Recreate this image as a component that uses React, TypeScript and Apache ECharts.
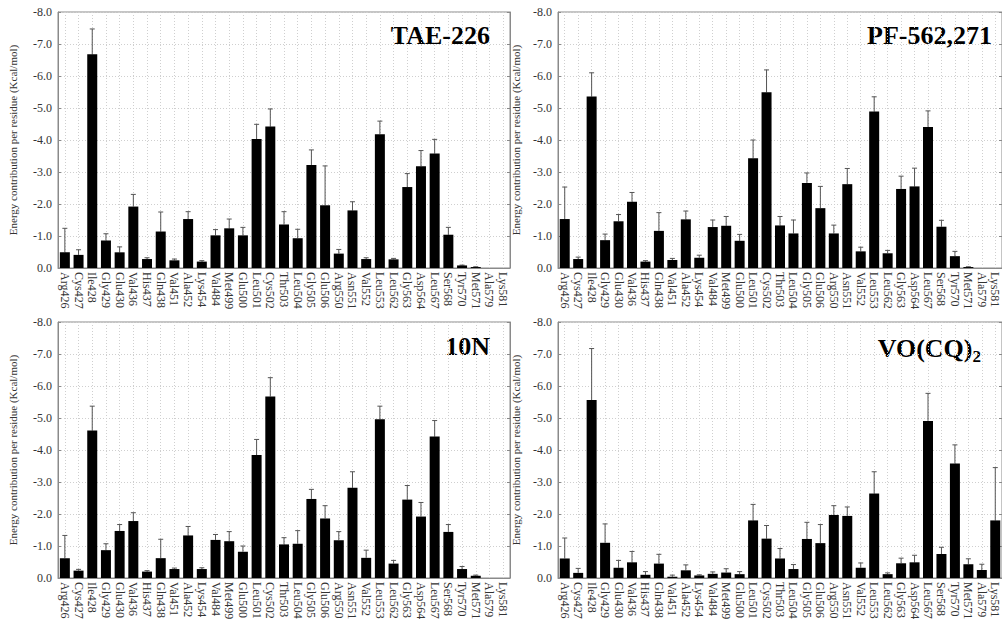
import React, { useEffect, useRef } from "react";
import * as echarts from "echarts";

const residues = [
  "Arg426", "Cys427", "Ile428", "Gly429", "Glu430", "Val436", "His437", "Gln438",
  "Val451", "Ala452", "Lys454", "Val484", "Met499", "Glu500", "Leu501", "Cys502",
  "Thr503", "Leu504", "Gly505", "Glu506", "Arg550", "Asn551", "Val552", "Leu553",
  "Leu562", "Gly563", "Asp564", "Leu567", "Ser568", "Tyr570", "Met571", "Ala579", "Lys581",
];

const yTicks = [-8, -7, -6, -5, -4, -3, -2, -1, 0];

const taeValues = [
  -0.49, -0.41, -6.68, -0.86, -0.49, -1.92, -0.28, -1.14, -0.24, -1.53, -0.2, -1.02, -1.24,
  -1.02, -4.03, -4.42, -1.36, -0.93, -3.22, -1.96, -0.45, -1.8, -0.28, -4.18, -0.27, -2.53,
  -3.18, -3.58, -1.04, -0.08, -0.03, 0, 0,
];
const taeErrors = [
  -1.24, -0.57, -7.47, -1.07, -0.66, -2.3, -0.32, -1.75, -0.28, -1.76, -0.23, -1.2, -1.53,
  -1.27, -4.49, -4.97, -1.76, -1.21, -3.69, -3.19, -0.58, -2.07, -0.32, -4.59, -0.3, -2.95,
  -3.67, -4.02, -1.27, -0.09, -0.04, 0, 0,
];

const pfValues = [
  -1.53, -0.28, -5.36, -0.87, -1.46, -2.07, -0.2, -1.16, -0.25, -1.52, -0.32, -1.28, -1.32,
  -0.85, -3.43, -5.49, -1.33, -1.08, -2.66, -1.87, -1.08, -2.62, -0.52, -4.89, -0.46, -2.47,
  -2.55, -4.41, -1.29, -0.37, -0.03, 0, 0,
];
const pfErrors = [
  -2.53, -0.34, -6.1, -1.06, -1.67, -2.36, -0.23, -1.73, -0.3, -1.78, -0.4, -1.5, -1.61,
  -1.05, -4.0, -6.19, -1.61, -1.5, -2.97, -2.55, -1.34, -3.11, -0.65, -5.35, -0.55, -2.87,
  -3.12, -4.91, -1.49, -0.52, -0.04, 0, 0,
];

const n10Values = [
  -0.62, -0.23, -4.61, -0.87, -1.47, -1.78, -0.2, -0.62, -0.28, -1.33, -0.28, -1.19, -1.15,
  -0.82, -3.84, -5.67, -1.05, -1.07, -2.47, -1.86, -1.18, -2.82, -0.63, -4.96, -0.45, -2.45,
  -1.92, -4.42, -1.44, -0.28, -0.07, 0, 0,
];
const n10Errors = [
  -1.33, -0.27, -5.37, -1.07, -1.67, -2.04, -0.23, -1.21, -0.31, -1.61, -0.32, -1.36, -1.45,
  -1.0, -4.33, -6.26, -1.26, -1.48, -2.77, -2.26, -1.45, -3.32, -0.87, -5.37, -0.55, -2.89,
  -2.36, -4.92, -1.67, -0.36, -0.09, 0, 0,
];

const vocqValues = [
  -0.61, -0.16, -5.56, -1.1, -0.32, -0.49, -0.1, -0.45, -0.04, -0.24, -0.08, -0.13, -0.17,
  -0.12, -1.8, -1.23, -0.61, -0.28, -1.22, -1.09, -1.97, -1.94, -0.32, -2.64, -0.12, -0.46,
  -0.49, -4.91, -0.75, -3.58, -0.43, -0.25, -1.8,
];
const vocqErrors = [
  -1.25, -0.3, -7.17, -1.69, -0.55, -0.83, -0.2, -0.74, -0.09, -0.41, -0.1, -0.19, -0.29,
  -0.2, -2.3, -1.64, -0.92, -0.42, -1.74, -1.67, -2.26, -2.22, -0.47, -3.32, -0.16, -0.62,
  -0.71, -5.77, -0.96, -4.16, -0.6, -0.43, -3.45,
];

const panels = [
  { values: taeValues, errors: taeErrors },
  { values: pfValues, errors: pfErrors },
  { values: n10Values, errors: n10Errors },
  { values: vocqValues, errors: vocqErrors },
];

const SERIF = "'Liberation Serif', 'Times New Roman', serif";
const TEXT = "#333";

export default function App() {
  const ref = useRef<HTMLDivElement>(null);

  useEffect(() => {
    if (!ref.current) return;
    const chart = echarts.init(ref.current, null, { renderer: "svg" });

    const gridPos = [
      { left: 58, top: 12, width: 452, height: 256 },
      { left: 558, top: 12, width: 452, height: 256 },
      { left: 58, top: 322, width: 452, height: 256 },
      { left: 558, top: 322, width: 452, height: 256 },
    ];

    const grids = gridPos.map((g) => ({
      ...g,
      show: true,
      borderColor: "#8a8a8a",
      borderWidth: 1,
      backgroundColor: "transparent",
    }));

    const xAxes = gridPos.map((_, i) => ({
      type: "category",
      gridIndex: i,
      data: residues,
      boundaryGap: true,
      axisLine: { show: true, lineStyle: { color: "#8a8a8a" } },
      axisTick: { show: false },
      axisLabel: {
        interval: 0,
        rotate: -90,
        fontFamily: SERIF,
        fontSize: 12,
        color: TEXT,
        margin: 4,
      },
      splitLine: {
        show: true,
        interval: 0,
        alignWithLabel: true,
        lineStyle: { color: "#cfcfcf", type: [1, 2], width: 1 },
      },
    }));

    const yAxes: any[] = [];
    gridPos.forEach((_, i) => {
      yAxes.push({
        type: "value",
        gridIndex: i,
        min: yTicks[0],
        max: yTicks[yTicks.length - 1],
        interval: 1,
        inverse: true,
        name: "Energy contribution per residue (Kcal/mol)",
        nameLocation: "middle",
        nameGap: i % 2 === 0 ? 40 : 37,
        nameTextStyle: { fontFamily: SERIF, fontSize: 11, color: TEXT },
        axisLine: { show: true, lineStyle: { color: "#8a8a8a" } },
        axisTick: { show: true, inside: true, length: 3, lineStyle: { color: "#8a8a8a" } },
        axisLabel: {
          fontFamily: SERIF,
          fontSize: 12,
          color: TEXT,
          margin: 6,
          formatter: (v: number) => v.toFixed(1),
        },
        splitLine: { show: true, lineStyle: { color: "#cfcfcf", type: [1, 2], width: 1 } },
      });
    });
    gridPos.forEach((_, i) => {
      yAxes.push({
        type: "value",
        gridIndex: i,
        position: "right",
        min: yTicks[0],
        max: yTicks[yTicks.length - 1],
        interval: 1,
        inverse: true,
        axisLine: { show: true, lineStyle: { color: "#8a8a8a" } },
        axisTick: { show: true, inside: true, length: 3, lineStyle: { color: "#8a8a8a" } },
        axisLabel: { show: false },
        splitLine: { show: false },
      });
    });

    const series: any[] = [];
    panels.forEach((p, i) => {
      series.push({
        type: "bar",
        xAxisIndex: i,
        yAxisIndex: i,
        data: p.values,
        barWidth: 10,
        itemStyle: { color: "#000" },
        silent: true,
      });
      series.push({
        type: "custom",
        xAxisIndex: i,
        yAxisIndex: i,
        silent: true,
        data: residues.map((_, k) => [k, p.values[k], p.errors[k]]),
        renderItem: (_params: any, api: any) => {
          const x = api.value(0);
          const v = api.value(1);
          const e = api.value(2);
          if (e === 0) return null;
          const p0 = api.coord([x, v]);
          const p1 = api.coord([x, e]);
          const style = { stroke: "#555", lineWidth: 1 };
          return {
            type: "group",
            children: [
              { type: "line", shape: { x1: p0[0], y1: p0[1], x2: p1[0], y2: p1[1] }, style },
              { type: "line", shape: { x1: p1[0] - 2.5, y1: p1[1], x2: p1[0] + 2.5, y2: p1[1] }, style },
            ],
          };
        },
      });
    });

    const titleFont = `bold 26px ${SERIF}`;
    const graphic = [
      { type: "text", x: 490, y: 35, style: { text: "TAE-226", font: titleFont, fill: "#000", textAlign: "right", textVerticalAlign: "middle" } },
      { type: "text", x: 992, y: 35, style: { text: "PF-562,271", font: titleFont, fill: "#000", textAlign: "right", textVerticalAlign: "middle" } },
      { type: "text", x: 490, y: 346, style: { text: "10N", font: titleFont, fill: "#000", textAlign: "right", textVerticalAlign: "middle" } },
      {
        type: "text",
        x: 981,
        y: 346,
        style: {
          text: "{a|VO(CQ)}{s|2}",
          textAlign: "right",
          textVerticalAlign: "middle",
          rich: {
            a: { fontFamily: SERIF, fontWeight: "bold", fontSize: 26, color: "#000", verticalAlign: "bottom", lineHeight: 30 },
            s: { fontFamily: SERIF, fontWeight: "bold", fontSize: 17, color: "#000", verticalAlign: "bottom", lineHeight: 22, padding: [0, 0, -4, 0] },
          },
        },
      },
    ];

    chart.setOption({
      animation: false,
      backgroundColor: "#fff",
      grid: grids,
      xAxis: xAxes,
      yAxis: yAxes,
      series,
      graphic,
    });

    return () => chart.dispose();
  }, []);

  return (
    <div
      ref={ref}
      style={{ position: "absolute", left: 0, top: 0, width: 1002, height: 623 }}
    />
  );
}
